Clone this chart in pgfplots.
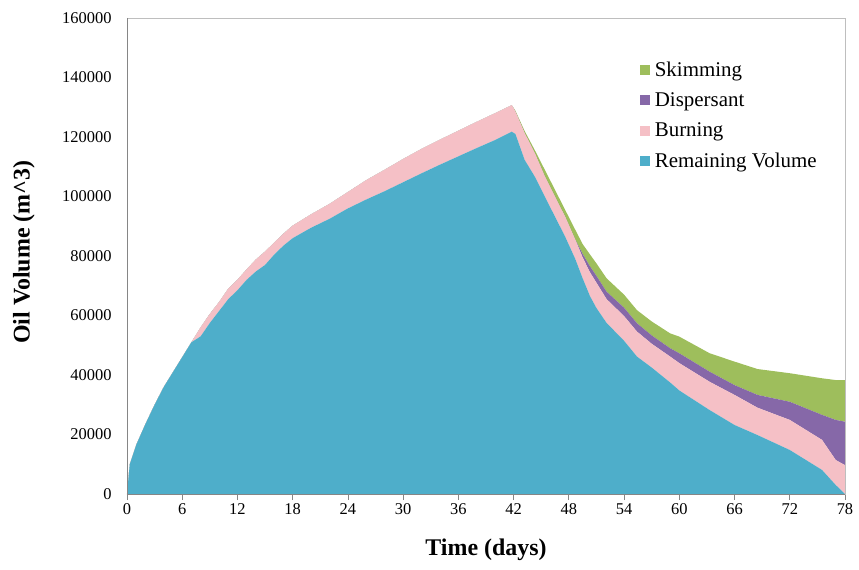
\documentclass[border=0pt]{standalone}
\usepackage{pgfplots}
\usepackage{pgfplotstable}
\pgfplotsset{compat=1.18}
\usepackage{fontspec}
\setmainfont{Liberation Serif}
\definecolor{cRem}{RGB}{78,174,202}
\definecolor{cBurn}{RGB}{245,192,198}
\definecolor{cDisp}{RGB}{134,104,168}
\definecolor{cSkim}{RGB}{158,190,92}
\definecolor{axdark}{RGB}{134,134,134}
\definecolor{axlight}{RGB}{190,190,190}
\pgfplotsset{sqlegend/.style={legend image code/.code={\fill[#1] (0bp,-5bp) rectangle (10bp,5bp);}}}
\pgfplotstableread{
d R B D S
0 0 0 0 0
0.3 10000 0 0 0
1 16500 0 0 0
2 23500 0 0 0
3 30000 0 0 0
4 36000 0 0 0
5 41000 0 0 0
6 46000 0 0 0
7 51000 0 0 0
7.5 52000 1500 0 0
8 53000 3000 0 0
9 57500 3000 0 0
10 61500 3000 0 0
11 65500 3500 0 0
12 68500 3500 0 0
13 72000 3500 0 0
14 74800 4000 0 0
15 77000 4500 0 0
16 80500 4000 0 0
17 83500 4000 0 0
18 86000 4200 0 0
20 89500 4500 0 0
22 92500 5000 0 0
24 96000 5500 0 0
26 99000 6500 0 0
28 101800 7200 0 0
30 104800 7800 0 0
32 107800 8200 0 0
34 110700 8400 0 0
36 113500 8600 0 0
38 116300 8800 0 0
40 119000 9000 0 0
41.8 121800 8900 0 0
42.2 121000 7500 0 300
43.2 112300 9000 0 700
44.3 106700 7900 0 1000
45.4 99900 6800 0 2200
46.5 93200 6700 0 2300
47.6 86500 6700 0 2300
48.7 79000 6500 0 3300
49.5 72500 7000 1200 3300
50.3 66500 8000 2000 4000
51 62500 8500 2300 4200
52.1 57500 8000 2500 4500
54 51500 8300 2800 4400
55.4 46200 8400 2800 4400
57 42500 8000 2800 4700
59 37500 8700 2800 5000
60 34800 9200 3300 5600
63.3 28200 9500 3400 6200
66 23200 10100 3300 7900
68.5 19800 9200 4300 8700
72 14800 10100 6100 9600
75.5 8100 10100 8400 12300
77 3000 8400 13500 13400
78 0 9700 14600 14000
}\oildata
\begin{document}
\begin{tikzpicture}
\useasboundingbox (-127bp,-76bp) rectangle (732bp,494bp);
\begin{axis}[
  scale only axis,
  width=718bp, height=476bp,
  xmin=0, xmax=78, ymin=0, ymax=160000,
  xtick={0,6,...,78},
  ytick={0,20000,...,160000},
  scaled y ticks=false,
  /pgf/number format/assume math mode=true,
  yticklabel style={xshift=-6bp, /pgf/number format/.cd, fixed, 1000 sep={}},
  ticklabel style={font=\fontsize{16.5}{18}\selectfont},
  tick align=outside,
  xtick pos=bottom,
  ytick pos=left,
  x tick style={draw=axdark, line width=0.8pt},
  major tick length=6bp,
  y tick style={draw=none},
  axis line style={draw=axlight, line width=0.9pt},
  xlabel={\textbf{Time (days)}},
  ylabel={\textbf{Oil Volume (m\^{}3)}},
  label style={font=\fontsize{24}{27}\selectfont},
  xlabel style={at={(axis description cs:0.5,-0.118)}, anchor=center},
  ylabel style={at={(axis description cs:-0.1435,0.508)}, anchor=center},
  stack plots=y,
  reverse legend,
  legend style={at={(rel axis cs:0.714,0.913)}, anchor=north west, draw=none, fill=none,
    font=\fontsize{21}{24}\selectfont, row sep=11bp, column sep=3bp, inner sep=0pt},
  legend cell align=left,
  sqlegend,
  after end axis/.code={
    \draw[axdark, line width=0.9pt] (rel axis cs:0,1) -- (rel axis cs:0,0) -- (rel axis cs:1,0);
  },
]
\addplot[fill=cRem, draw=none] table[x=d, y=R] {\oildata} \closedcycle;
\addlegendentry{Remaining Volume}
\addplot[fill=cBurn, draw=none] table[x=d, y=B] {\oildata} \closedcycle;
\addlegendentry{Burning}
\addplot[fill=cDisp, draw=none] table[x=d, y=D] {\oildata} \closedcycle;
\addlegendentry{Dispersant}
\addplot[fill=cSkim, draw=none] table[x=d, y=S] {\oildata} \closedcycle;
\addlegendentry{Skimming}
\end{axis}
\end{tikzpicture}
\end{document}
